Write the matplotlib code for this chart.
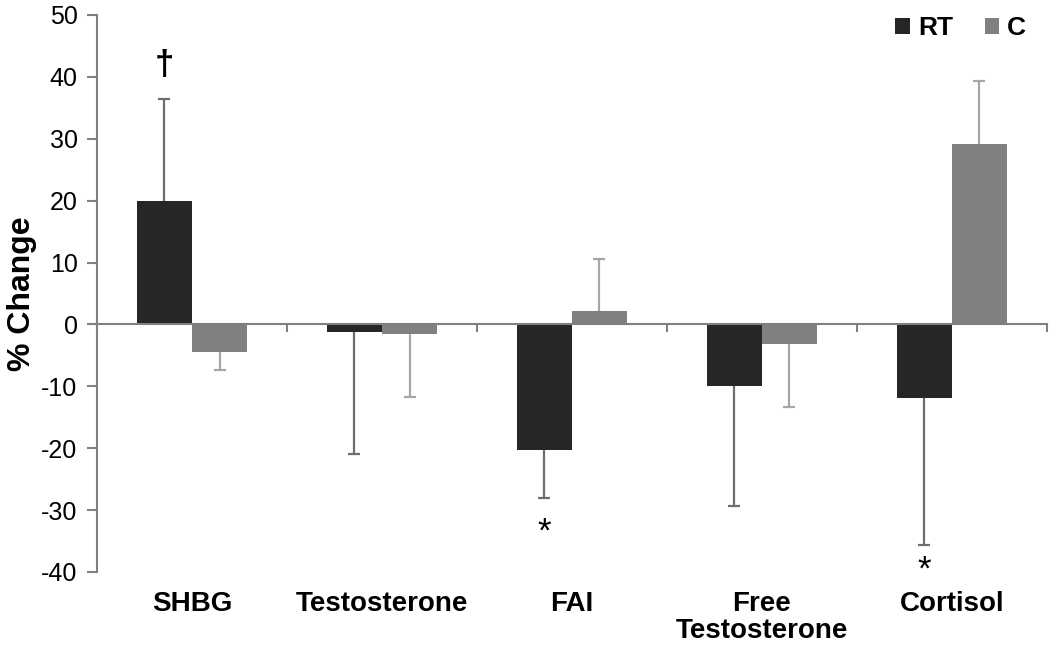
import matplotlib
matplotlib.use("Agg")
import matplotlib.pyplot as plt
import numpy as np

plt.rcParams['font.family'] = ['Liberation Sans', 'DejaVu Sans']
plt.rcParams['axes.unicode_minus'] = False

# données (% de variation)
categories = ["SHBG", "Testosterone", "FAI", "Free\nTestosterone", "Cortisol"]
rt = [20.0, -1.2, -20.3, -9.9, -11.9]
rt_err = [16.5, 19.8, 7.7, 19.4, 23.7]
c = [-4.5, -1.5, 2.1, -3.2, 29.2]
c_err = [2.8, 10.2, 8.5, 10.2, 10.2]
yticks = [-40, -30, -20, -10, 0, 10, 20, 30, 40, 50]

fig = plt.figure(figsize=(10.5, 6.46), dpi=100)
ax = fig.add_axes([0.0924, 0.1146, 0.9046, 0.8622])

x = np.arange(len(categories))
w = 0.29

def barres(pos, vals, errs, col, ecol, lab):
    ax.bar(pos, vals, w, color=col, label=lab, zorder=2)
    # erreur seulement dans le sens de la barre, capuchon au bout
    fin = [v + e if v >= 0 else v - e for v, e in zip(vals, errs)]
    ax.vlines(pos, vals, fin, color=ecol, lw=1.6, zorder=1)
    ax.plot(pos, fin, ls='none', marker='_', ms=8, mew=1.6, color=ecol, zorder=1)

barres(x - w/2, rt, rt_err, "#262626", "#6e6e6e", "RT")
barres(x + w/2, c, c_err, "#808080", "#a6a6a6", "C")

ax.set_xlim(-0.5, len(categories) - 0.5)
ax.set_ylim(-40, 50)
ax.set_yticks(yticks)
ax.tick_params(axis='y', labelsize=18, length=7, width=1.5, color="#808080", pad=7)
ax.spines['top'].set_visible(False)
ax.spines['right'].set_visible(False)
ax.spines['left'].set_color("#808080")
ax.spines['left'].set_linewidth(1.5)
ax.spines['bottom'].set_position(('data', 0))
ax.spines['bottom'].set_color("#808080")
ax.spines['bottom'].set_linewidth(1.5)
ax.spines['bottom'].set_zorder(3)
ax.set_xticks(np.arange(len(categories) + 1) - 0.5)
ax.set_xticklabels([])
ax.tick_params(axis='x', length=6, width=1.5, color="#808080")

for i, name in enumerate(categories):
    ax.annotate(name, (i, -40), xytext=(0, -14), textcoords='offset points',
                ha='center', va='top', fontsize=20, fontweight='bold', linespacing=1.05)

ax.set_ylabel("% Change", fontsize=23, fontweight='bold', labelpad=3)

# marques de significativité
ax.annotate("†", (0 - w/2, rt[0] + rt_err[0]), xytext=(0, 12), textcoords='offset points',
            ha='center', va='bottom', fontsize=25, fontweight='bold')
ax.annotate("*", (2 - w/2, rt[2] - rt_err[2]), xytext=(0, -25), textcoords='offset points',
            ha='center', va='center', fontsize=25)
ax.annotate("*", (4 - w/2, rt[4] - rt_err[4]), xytext=(0, -18), textcoords='offset points',
            ha='center', va='center', fontsize=25)

leg = ax.legend(loc='upper right', ncol=2, frameon=False, bbox_to_anchor=(1.003, 1.04),
                handlelength=0.55, handleheight=0.55, handletextpad=0.3, columnspacing=1.2,
                prop=dict(size=19, weight='bold'))

fig.savefig("out.png", dpi=100)
